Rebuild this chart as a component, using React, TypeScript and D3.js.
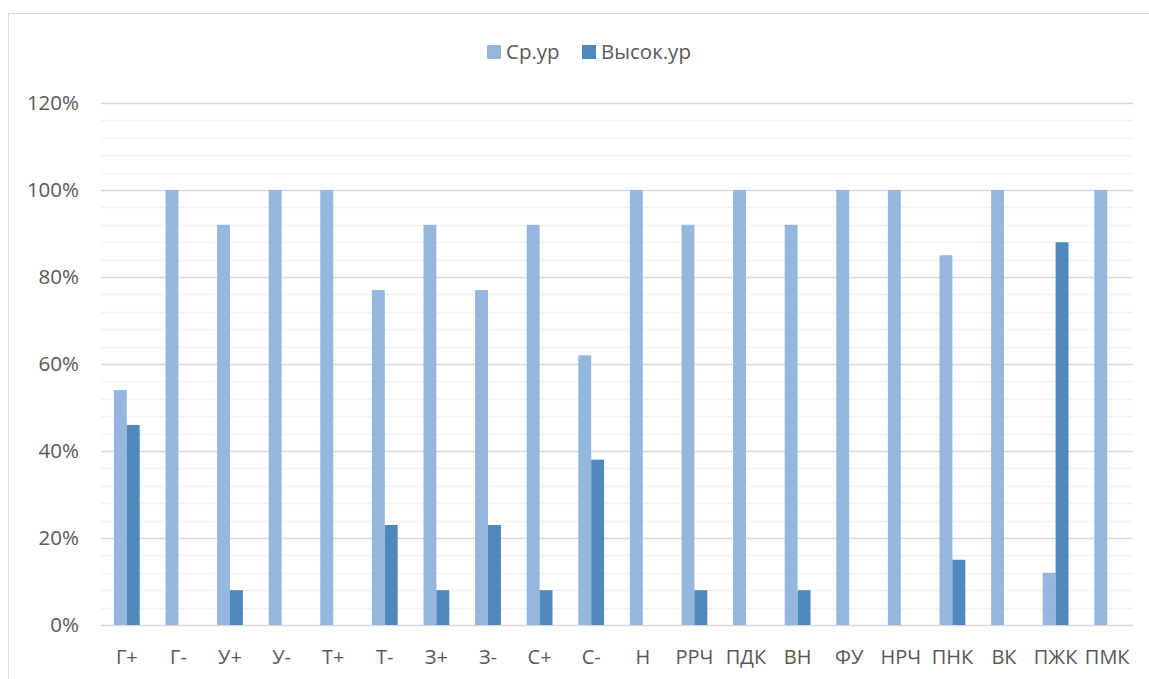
import React from "react";
import * as d3 from "d3";

const categories = ["Г+", "Г-", "У+", "У-", "Т+", "Т-", "З+", "З-", "С+", "С-", "Н", "РРЧ", "ПДК", "ВН", "ФУ", "НРЧ", "ПНК", "ВК", "ПЖК", "ПМК"];
const seriesNames = ["Ср.ур", "Высок.ур"];
const srValues = [54, 100, 92, 100, 100, 77, 92, 77, 92, 62, 100, 92, 100, 92, 100, 100, 85, 100, 12, 100];
const highValues = [46, 0, 8, 0, 0, 23, 8, 23, 8, 38, 0, 8, 0, 8, 0, 0, 15, 0, 88, 0];
const yTicks = [0, 20, 40, 60, 80, 100, 120];

const colors = ["#95b7de", "#4f88bd"];
const textColor = "#595959";
const font = "'Open Sans', 'Liberation Sans', sans-serif";

export default function App() {
  const width = 1149;
  const height = 679;
  const margin = { top: 103, right: 16, bottom: 54, left: 101 };

  const x = d3
    .scaleBand<string>()
    .domain(categories)
    .range([margin.left, width - margin.right]);

  const x1 = d3
    .scaleBand<string>()
    .domain(seriesNames)
    .range([x.bandwidth() * 0.25, x.bandwidth() * 0.75]);

  const y = d3
    .scaleLinear()
    .domain([0, 120])
    .range([height - margin.bottom, margin.top]);

  const minorTicks = d3.range(0, 121, 4).filter(t => t % 20 !== 0);
  const series = [srValues, highValues];

  // legend item positions (square x, text x)
  const legendItems = [
    { sx: 487, tx: 506 },
    { sx: 582, tx: 601 },
  ];

  return (
    <svg
      width={width}
      height={height}
      style={{ position: "fixed", left: 0, top: 0, background: "#fff" }}
      fontFamily={font}
    >
      <rect x={8.5} y={13.5} width={1200} height={700} fill="#fff" stroke="#d9d9d9" />

      {/* Minor gridlines */}
      {minorTicks.map(t => (
        <line
          key={"m" + t}
          x1={margin.left}
          x2={width - margin.right}
          y1={Math.round(y(t)) + 0.5}
          y2={Math.round(y(t)) + 0.5}
          stroke="#f2f2f2"
          strokeWidth={1.5}
        />
      ))}

      {/* Major gridlines + labels */}
      {yTicks.map(t => (
        <g key={t}>
          <line
            x1={margin.left}
            x2={width - margin.right}
            y1={Math.round(y(t)) + 0.5}
            y2={Math.round(y(t)) + 0.5}
            stroke="#d9d9d9"
            strokeWidth={1.5}
          />
          <text
            x={79}
            y={y(t)}
            dy="0.36em"
            textAnchor="end"
            fontSize={20.5}
            fill={textColor}
          >
            {t}%
          </text>
        </g>
      ))}

      {/* Bars */}
      {categories.map((c, i) => (
        <g key={c} transform={`translate(${x(c)},0)`}>
          {seriesNames.map((s, j) =>
            series[j][i] > 0 ? (
              <rect
                key={s}
                x={x1(s)}
                y={y(series[j][i])}
                width={x1.bandwidth()}
                height={y(0) - y(series[j][i])}
                fill={colors[j]}
              />
            ) : null
          )}
          <text
            x={x.bandwidth() / 2}
            y={664}
            textAnchor="middle"
            fontSize={20}
            fill={textColor}
          >
            {c}
          </text>
        </g>
      ))}

      {/* Legend */}
      {seriesNames.map((s, j) => (
        <g key={s}>
          <rect x={legendItems[j].sx} y={45} width={14} height={14} fill={colors[j]} />
          <text x={legendItems[j].tx} y={52} dy="0.36em" fontSize={20.5} fill={textColor}>
            {s}
          </text>
        </g>
      ))}
    </svg>
  );
}
